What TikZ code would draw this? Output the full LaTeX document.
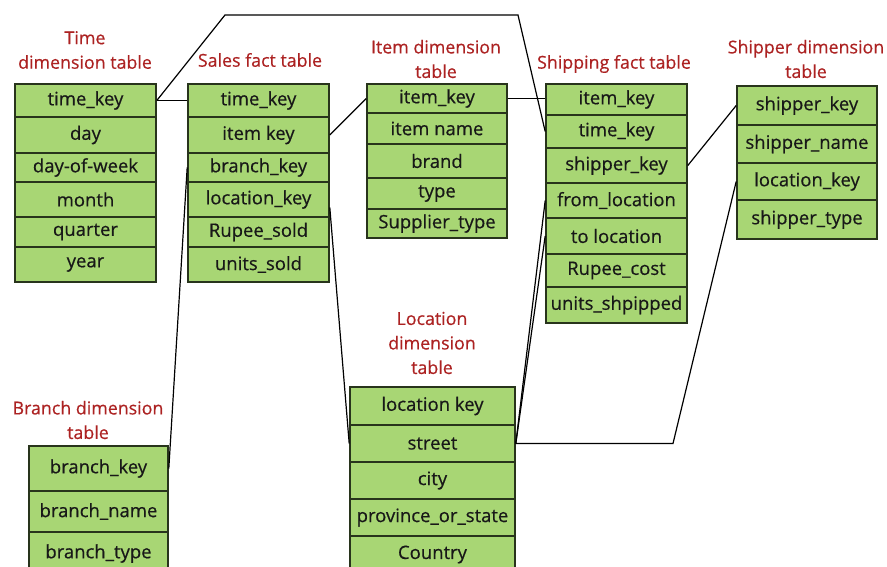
\documentclass[tikz,border=0pt]{standalone}
\usepackage{fontspec}
\setmainfont{Open Sans}[FakeBold=0.5]
\usepackage{tikz}
\usetikzlibrary{positioning}
\definecolor{cellgreen}{RGB}{168,214,116}
\definecolor{celledge}{RGB}{40,52,28}
\definecolor{titlered}{RGB}{172,34,34}
\definecolor{celltext}{RGB}{24,24,24}

\begin{document}
\begin{tikzpicture}[x=1pt, y=-1pt,
		cell/.style={draw=celledge, line width=1.6pt, fill=cellgreen, inner sep=0pt,
			text=celltext, font=\fontsize{18.5}{22}\selectfont},
		title/.style={text=titlered, align=center, inner sep=0pt,
			font=\fontsize{17.8}{24.5}\selectfont},
		link/.style={draw=black, line width=1.2pt}]
				\useasboundingbox (0,0) rectangle (887,567);
				\clip (0,0) rectangle (887,567);

				% titles
				\node[title] (tTime) at (85,50) {Time\\dimension table};
				\node[title] (tSales) at (260,60) {Sales fact table};
				\node[title] (tItem) at (436,59) {Item dimension\\table};
				\node[title] (tShip) at (614,64) {Shipping fact table};
				\node[title] (tShipper) at (806,59) {Shipper dimension\\table};
				\node[title] (tLoc) at (432,343) {Location\\dimension\\table};
				\node[title] (tBranch) at (88,420) {Branch dimension\\table};

				% time dimension
				\begin{scope}[every node/.append style={cell, minimum width=141}]
				\node[minimum height=33] (T1) at (85.5,100.5) {time\_key};
				\node[minimum height=36] (T2) at (85.5,135) {day};
				\node[minimum height=29] (T3) at (85.5,167.5) {day-of-week};
				\node[minimum height=35] (T4) at (85.5,199.5) {month};
				\node[minimum height=30] (T5) at (85.5,232) {quarter};
				\node[minimum height=35] (T6) at (85.5,264.5) {year};
				\end{scope}

				% sales fact
				\begin{scope}[every node/.append style={cell, minimum width=141}]
				\node[minimum height=33] (S1) at (258.5,100.5) {time\_key};
				\node[minimum height=36] (S2) at (258.5,135) {item key};
				\node[minimum height=29] (S3) at (258.5,167.5) {branch\_key};
				\node[minimum height=35] (S4) at (258.5,199.5) {location\_key};
				\node[minimum height=30] (S5) at (258.5,232) {Rupee\_sold};
				\node[minimum height=35] (S6) at (258.5,264.5) {units\_sold};
				\end{scope}

				% item dimension
				\begin{scope}[every node/.append style={cell, minimum width=140}]
				\node[minimum height=29] (I1) at (437,98.5) {item\_key};
				\node[minimum height=31] (I2) at (437,128.5) {item name};
				\node[minimum height=34] (I3) at (437,161) {brand};
				\node[minimum height=31] (I4) at (437,193.5) {type};
				\node[minimum height=29] (I5) at (437,223.5) {Supplier\_type};
				\end{scope}

				% shipping fact
				\begin{scope}[every node/.append style={cell, minimum width=141}]
				\node[minimum height=31] (H1) at (616.5,99.5) {item\_key};
				\node[minimum height=33] (H2) at (616.5,131.5) {time\_key};
				\node[minimum height=35] (H3) at (616.5,165.5) {shipper\_key};
				\node[minimum height=35] (H4) at (616.5,200.5) {from\_location};
				\node[minimum height=36] (H5) at (616.5,236) {to location};
				\node[minimum height=33] (H6) at (616.5,270.5) {Rupee\_cost};
				\node[minimum height=36] (H7) at (616.5,305) {units\_shpipped};
				\end{scope}

				% shipper dimension
				\begin{scope}[every node/.append style={cell, minimum width=140}]
				\node[minimum height=39] (P1) at (807,105.5) {shipper\_key};
				\node[minimum height=38] (P2) at (807,144) {shipper\_name};
				\node[minimum height=37] (P3) at (807,181.5) {location\_key};
				\node[minimum height=39] (P4) at (807,219.5) {shipper\_type};
				\end{scope}

				% location dimension
				\begin{scope}[every node/.append style={cell, minimum width=165, minimum height=37}]
				\node[minimum height=38] (L1) at (432.5,406) {location key};
				\node (L2) at (432.5,443.5) {street};
				\node (L3) at (432.5,480.5) {city};
				\node (L4) at (432.5,517.5) {province\_or\_state};
				\node (L5) at (432.5,554.5) {Country};
				\end{scope}

				% branch dimension
				\begin{scope}[every node/.append style={cell, minimum width=139}]
				\node[minimum height=45] (B1) at (98.5,468.5) {branch\_key};
				\node[minimum height=41] (B2) at (98.5,511.5) {branch\_name};
				\node[minimum height=43] (B3) at (98.5,553.5) {branch\_type};
				\end{scope}

				% bends
				\coordinate (up1) at (225,15);
				\coordinate (up2) at (518,15);
				\coordinate (low1) at (673,443.5);

				\path[link]
				(T1) edge (S1)
				(S2.east) edge (I1.west)
				(I1.east) edge (I1.east -| H1.west)
				(S3.west) edge (B1.east)
				([yshift=-8pt]S4.east) edge (L2.west)
				(H4.west) edge (L2.east)
				(H5.west) edge (L2.east)
				(H3.east) edge (P1.west);

				\draw[link] (T1.east) -- (up1) -- (up2) -- (H2.west);
				\draw[link] (P3.west) -- (low1) -- (L2.east);
			\end{tikzpicture}
\end{document}
